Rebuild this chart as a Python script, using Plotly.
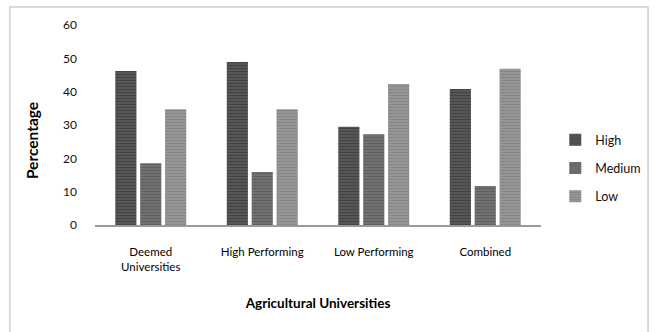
import plotly.graph_objects as go

categories = ["Deemed<br>Universities", "High Performing", "Low Performing", "Combined"]
series_names = ["High", "Medium", "Low"]
high = [46.2, 48.9, 29.5, 40.8]
medium = [18.5, 15.9, 27.2, 11.7]
low = [34.7, 34.7, 42.3, 46.9]
y_ticks = [0, 10, 20, 30, 40, 50, 60]

values = [high, medium, low]
bg_colors = ["#5a5a5a", "#747474", "#979797"]
fg_colors = ["#2e2e2e", "#4c4c4c", "#767676"]

FONT = "Lato, 'Open Sans', sans-serif"

fig = go.Figure()
for name, vals, bg, fg in zip(series_names, values, bg_colors, fg_colors):
    fig.add_trace(go.Bar(
        x=categories, y=vals, name=name, legendgroup=name,
        marker=dict(color=bg, line=dict(width=0),
                    pattern=dict(shape="-", bgcolor=bg, fgcolor=fg, size=3, solidity=0.45)),
    ))

fig.update_layout(
    width=658, height=332,
    margin=dict(l=95, r=103, t=25, b=107),
    paper_bgcolor="white", plot_bgcolor="white",
    barmode="group", bargap=0.33, bargroupgap=0.15,
    font=dict(family=FONT, size=12, color="#111"),
    showlegend=True,
    legend=dict(x=1.032, y=0.285, xanchor="left", yanchor="middle",
                font=dict(size=12.5, color="#111"), tracegroupgap=9,
                itemwidth=30, bgcolor="rgba(0,0,0,0)"),
    shapes=[dict(type="rect", xref="paper", yref="paper",
                 x0=-0.191, x1=1.24, y0=-0.6, y1=1.09,
                 line=dict(color="#cfcfcf", width=1.5))],
    annotations=[dict(text="<b>Percentage</b>", xref="paper", yref="paper",
                      x=-0.141, y=0.42, xanchor="center", yanchor="middle",
                      textangle=-90, showarrow=False,
                      font=dict(size=15.5, color="#000"))],
)

fig.update_xaxes(
    showline=True, linecolor="#9a9a9a", linewidth=2, showgrid=False,
    ticks="", tickfont=dict(size=11.5, color="#000"), ticklabelstandoff=15,
    title=dict(text="<b>Agricultural Universities</b>", font=dict(size=13.5, color="#000"), standoff=27),
)
fig.update_yaxes(
    range=[0, 60], tickvals=y_ticks, showgrid=False, showline=False, zeroline=False,
    ticks="", tickfont=dict(size=12, color="#111"), ticklabelstandoff=17,
)

fig.write_html("out.html")
